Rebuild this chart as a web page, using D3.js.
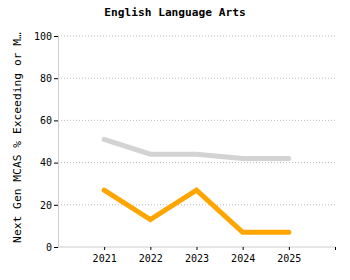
<!DOCTYPE html>
<html><head><meta charset="utf-8">
<script src="https://cdn.jsdelivr.net/npm/d3@7"></script>
<style>body{margin:0;background:#fff}svg{display:block}</style>
</head><body>
<svg id="c" width="350" height="280"></svg>
<script>
const years = [2021, 2022, 2023, 2024, 2025];
const stateValues = [51, 44, 44, 42, 42];
const schoolValues = [27, 13, 27, 7, 7];
const yTicks = [0, 20, 40, 60, 80, 100];
const title = "English Language Arts";
const yLabel = "Next Gen MCAS % Exceeding or M…";

const svg = d3.select("#c");
const m = {l: 58, r: 15, t: 36, b: 33};
const W = 350, H = 280;
const x = d3.scaleLinear().domain([2020, 2026]).range([m.l, W - m.r]);
const y = d3.scaleLinear().domain([0, 100]).range([H - m.b, m.t]);
const font = "'DejaVu Sans Mono', monospace";

svg.append("text").attr("x", 175).attr("y", 16).attr("text-anchor", "middle")
  .attr("font-family", font).attr("font-weight", "bold").attr("font-size", 11.2).text(title);

// grid
svg.append("g").selectAll("line").data(yTicks.filter(d => d > 0)).join("line")
  .attr("x1", m.l).attr("x2", W - m.r).attr("y1", d => y(d)).attr("y2", d => y(d))
  .attr("stroke", "#bbb").attr("stroke-dasharray", "1,2");

const ya = svg.append("g").attr("transform", `translate(${m.l},0)`)
  .call(d3.axisLeft(y).tickValues(yTicks).tickSize(4).tickPadding(2));
ya.select(".domain").attr("stroke", "#ccc");
ya.selectAll(".tick line").attr("stroke", "#000");
ya.selectAll("text").attr("font-family", font).attr("font-size", 10).attr("fill", "#000");

const xa = svg.append("g").attr("transform", `translate(0,${H - m.b})`)
  .call(d3.axisBottom(x).tickValues([...years, 2026]).tickSize(3).tickPadding(5)
    .tickFormat(d => d === 2026 ? "" : d3.format("d")(d)));
xa.select(".domain").attr("stroke", "#ccc").attr("d", `M${m.l},0H${W - m.r}`);
xa.selectAll(".tick line").attr("stroke", "#000");
xa.selectAll("text").attr("font-family", font).attr("font-size", 10).attr("fill", "#000");

svg.append("text").attr("transform", `translate(21,${(y(0) + y(100)) / 2 - 4}) rotate(-90)`)
  .attr("text-anchor", "middle").attr("font-family", font).attr("font-size", 11.3).text(yLabel);

const line = d3.line().x((d, i) => x(years[i])).y(d => y(d));
svg.append("path").datum(stateValues).attr("d", line).attr("fill", "none")
  .attr("stroke", "#d3d3d3").attr("stroke-width", 5).attr("stroke-linecap", "round");
svg.append("path").datum(schoolValues).attr("d", line).attr("fill", "none")
  .attr("stroke", "#ffa500").attr("stroke-width", 5).attr("stroke-linecap", "round");
</script>
</body></html>
